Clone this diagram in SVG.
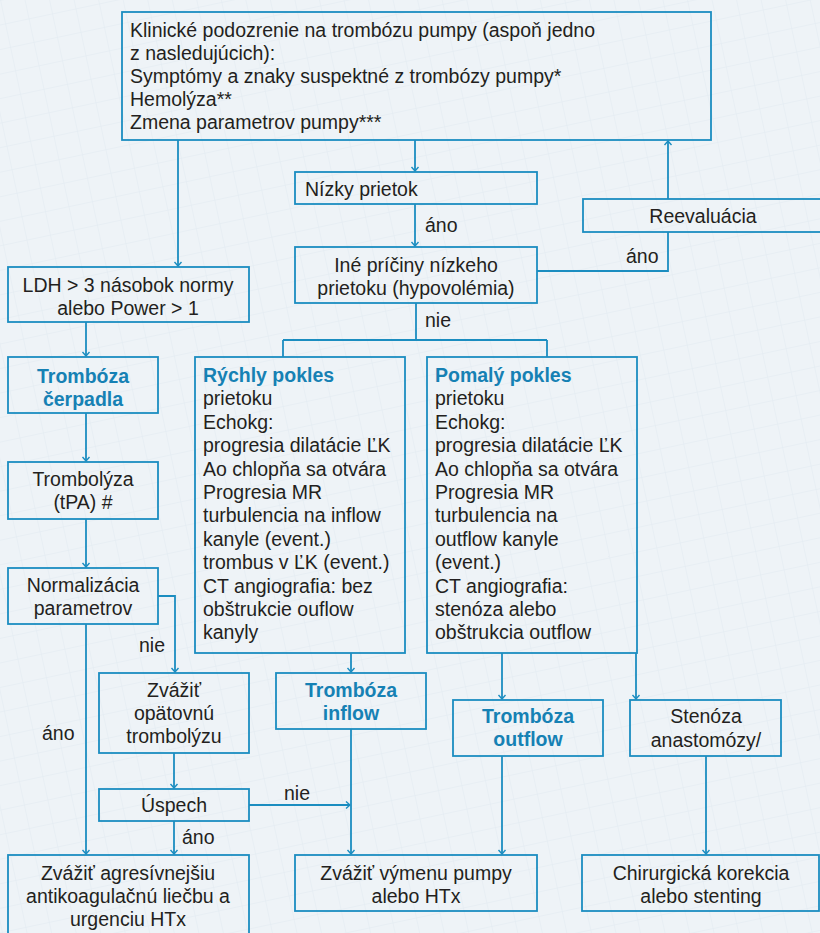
<svg xmlns="http://www.w3.org/2000/svg" width="820" height="933" viewBox="0 0 820 933">
<defs>
<style>
.bx{fill:none;stroke:#1b8dc0;stroke-width:1.8}
.ln{fill:none;stroke:#1b8dc0;stroke-width:1.8}
.ar{marker-end:url(#ah)}
text{font-family:"Liberation Sans",Arial,sans-serif;font-size:19.5px;fill:#231f20}
.c{text-anchor:middle}
.b{font-weight:bold;fill:#1681b4}
</style>
<marker id="ah" viewBox="-6 -5 7 10" markerWidth="7" markerHeight="10" refX="0" refY="0" orient="auto" markerUnits="userSpaceOnUse">
<path d="M-4,-3.5 L0,0 L-4,3.5" fill="none" stroke="#1b8dc0" stroke-width="1.4"/>
</marker>
<pattern id="grid" width="24" height="24" patternUnits="userSpaceOnUse" patternTransform="rotate(-12)">
<path d="M24,0 L0,0 L0,24" fill="none" stroke="#dbe6ee" stroke-width="1"/>
</pattern>
</defs>
<rect x="0" y="0" width="820" height="933" fill="#eef3f7"/>
<rect x="0" y="0" width="820" height="933" fill="url(#grid)" opacity="0.7"/>

<g id="connectors">
<path class="ln ar" d="M178,140 V266"/>
<path class="ln ar" d="M415,140 V171"/>
<path class="ln ar" d="M415,204 V246"/>
<path class="ln" d="M537,271 H668 V232"/>
<path class="ln ar" d="M668,199 V141"/>
<path class="ln" d="M416,303 V340 M283,340 H547 M283,340 V357 M547,340 V357"/>
<path class="ln ar" d="M86,322 V356"/>
<path class="ln ar" d="M86,413 V461"/>
<path class="ln ar" d="M86,519 V567"/>
<path class="ln ar" d="M158,596 H175 V672"/>
<path class="ln ar" d="M86,624 V854"/>
<path class="ln ar" d="M174,753 V788"/>
<path class="ln ar" d="M249,805 H350"/>
<path class="ln ar" d="M174,821 V854"/>
<path class="ln ar" d="M351,653 V672"/>
<path class="ln ar" d="M351,729 V854"/>
<path class="ln ar" d="M502,653 V699"/>
<path class="ln ar" d="M502,756 V854"/>
<path class="ln ar" d="M636,653 V699"/>
<path class="ln ar" d="M706,756 V854"/>
<text x="425" y="232">áno</text>
<text x="626" y="263">áno</text>
<text x="425" y="327">nie</text>
<text x="139" y="652">nie</text>
<text x="42" y="740">áno</text>
<text x="284" y="800">nie</text>
<text x="182" y="844">áno</text>
</g>

<g id="n_start">
<rect class="bx" x="122" y="12" width="589" height="128"/>
<text x="130" y="37">Klinické podozrenie na trombózu pumpy (aspoň jedno</text>
<text x="130" y="60">z nasledujúcich):</text>
<text x="130" y="83">Symptómy a znaky suspektné z trombózy pumpy*</text>
<text x="130" y="106">Hemolýza**</text>
<text x="130" y="129">Zmena parametrov pumpy***</text>
</g>

<g id="n_nizky">
<rect class="bx" x="295" y="172" width="242" height="32"/>
<text x="305" y="196">Nízky prietok</text>
</g>

<g id="n_reeval">
<rect class="bx" x="583" y="199" width="240" height="33"/>
<text class="c" x="703" y="223">Reevaluácia</text>
</g>

<g id="n_ine">
<rect class="bx" x="295" y="247" width="242" height="56"/>
<text class="c" x="416" y="272">Iné príčiny nízkeho</text>
<text class="c" x="416" y="295">prietoku (hypovolémia)</text>
</g>

<g id="n_ldh">
<rect class="bx" x="8" y="267" width="241" height="55"/>
<text class="c" x="128" y="292">LDH &gt; 3 násobok normy</text>
<text class="c" x="128" y="315">alebo Power &gt; 1</text>
</g>

<g id="n_cerpadlo">
<rect class="bx" x="8" y="357" width="150" height="56"/>
<text class="c b" x="83" y="383">Trombóza</text>
<text class="c b" x="83" y="406">čerpadla</text>
</g>

<g id="n_trombolyza">
<rect class="bx" x="8" y="462" width="150" height="57"/>
<text class="c" x="83" y="486">Trombolýza</text>
<text class="c" x="83" y="509">(tPA) #</text>
</g>

<g id="n_normal">
<rect class="bx" x="8" y="568" width="150" height="56"/>
<text class="c" x="83" y="592">Normalizácia</text>
<text class="c" x="83" y="615">parametrov</text>
</g>

<g id="n_rychly">
<rect class="bx" x="195" y="357" width="210" height="296"/>
<text class="b" x="203" y="382">Rýchly pokles</text>
<text x="203" y="405.4">prietoku</text>
<text x="203" y="428.8">Echokg:</text>
<text x="203" y="452.2">progresia dilatácie ĽK</text>
<text x="203" y="475.6">Ao chlopňa sa otvára</text>
<text x="203" y="499">Progresia MR</text>
<text x="203" y="522.4">turbulencia na inflow</text>
<text x="203" y="545.8">kanyle (event.)</text>
<text x="203" y="569.2">trombus v ĽK (event.)</text>
<text x="203" y="592.6">CT angiografia: bez</text>
<text x="203" y="616">obštrukcie ouflow</text>
<text x="203" y="639.4">kanyly</text>
</g>

<g id="n_pomaly">
<rect class="bx" x="427" y="357" width="210" height="296"/>
<text class="b" x="435" y="382">Pomalý pokles</text>
<text x="435" y="405.4">prietoku</text>
<text x="435" y="428.8">Echokg:</text>
<text x="435" y="452.2">progresia dilatácie ĽK</text>
<text x="435" y="475.6">Ao chlopňa sa otvára</text>
<text x="435" y="499">Progresia MR</text>
<text x="435" y="522.4">turbulencia na</text>
<text x="435" y="545.8">outflow kanyle</text>
<text x="435" y="569.2">(event.)</text>
<text x="435" y="592.6">CT angiografia:</text>
<text x="435" y="616">stenóza alebo</text>
<text x="435" y="639.4">obštrukcia outflow</text>
</g>

<g id="n_opat">
<rect class="bx" x="99" y="673" width="150" height="80"/>
<text class="c" x="174" y="697">Zvážiť</text>
<text class="c" x="174" y="720">opätovnú</text>
<text class="c" x="174" y="743">trombolýzu</text>
</g>

<g id="n_uspech">
<rect class="bx" x="99" y="789" width="150" height="32"/>
<text class="c" x="174" y="812">Úspech</text>
</g>

<g id="n_inflow">
<rect class="bx" x="276" y="673" width="150" height="56"/>
<text class="c b" x="351" y="697">Trombóza</text>
<text class="c b" x="351" y="720">inflow</text>
</g>

<g id="n_outflow">
<rect class="bx" x="453" y="700" width="150" height="56"/>
<text class="c b" x="528" y="723">Trombóza</text>
<text class="c b" x="528" y="746">outflow</text>
</g>

<g id="n_stenoza">
<rect class="bx" x="630" y="700" width="151" height="56"/>
<text class="c" x="706" y="723">Stenóza</text>
<text class="c" x="706" y="747">anastomózy/</text>
</g>

<g id="n_agres">
<rect class="bx" x="8" y="855" width="241" height="80"/>
<text class="c" x="128" y="880">Zvážiť agresívnejšiu</text>
<text class="c" x="128" y="903">antikoagulačnú liečbu a</text>
<text class="c" x="128" y="926">urgenciu HTx</text>
</g>

<g id="n_vymena">
<rect class="bx" x="295" y="855" width="242" height="56"/>
<text class="c" x="416" y="880">Zvážiť výmenu pumpy</text>
<text class="c" x="416" y="903">alebo HTx</text>
</g>

<g id="n_chir">
<rect class="bx" x="582" y="855" width="237" height="56"/>
<text class="c" x="701" y="880">Chirurgická korekcia</text>
<text class="c" x="701" y="903">alebo stenting</text>
</g>
</svg>
